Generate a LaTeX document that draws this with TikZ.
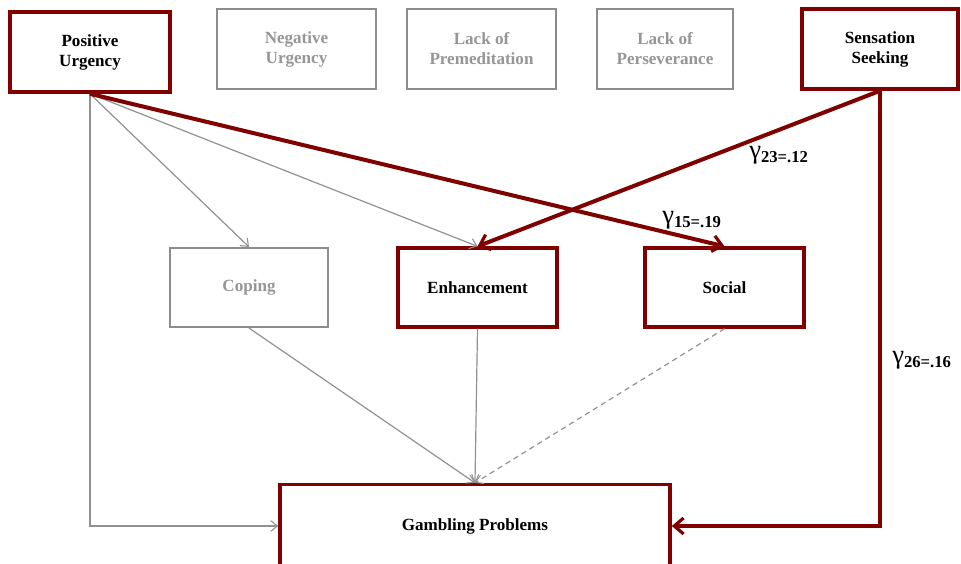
\documentclass[tikz,border=0pt]{standalone}
\usepackage{fontspec}
\setmainfont{Liberation Serif}
\usetikzlibrary{arrows.meta}
\definecolor{pathred}{RGB}{128,0,0}
\definecolor{boxgray}{RGB}{140,140,140}
\definecolor{txtgray}{RGB}{150,150,150}
\definecolor{linegray}{RGB}{145,145,145}
\newcommand{\gcoef}[1]{\raisebox{3pt}{\fontsize{20}{20}\selectfont\mdseries γ}{\fontsize{12.5}{12.5}\selectfont\bfseries #1}}
\begin{document}
\begin{tikzpicture}[x=0.75pt,y=-0.75pt,
  every node/.style={font=\fontsize{12.8}{15}\selectfont\bfseries, align=center, inner sep=0pt},
  keybox/.style={draw=pathred, line width=2.7pt, fill=white, text=black},
  dimbox/.style={draw=boxgray, line width=1.8pt, fill=white, text=txtgray},
  redpath/.style={draw=pathred, line width=3pt, -{Straight Barb[length=7pt,width=12pt,line width=2.4pt]}},
  graypath/.style={draw=linegray, line width=0.9pt, -{Straight Barb[length=5pt,width=8pt,line width=0.8pt]}},
  coef/.style={anchor=base west, text=black}]
\clip (0,0) rectangle (961,564);
\useasboundingbox (0,0) rectangle (961,564);

% impulsivity facets
\node[keybox, minimum width=120pt, minimum height=60pt] (pu)   at (90,52)    {Positive\\Urgency};
\node[dimbox, minimum width=119pt, minimum height=60pt] (nu)   at (296.5,49) {Negative\\Urgency};
\node[dimbox, minimum width=112pt, minimum height=60pt] (prem) at (481.5,49) {Lack of\\Premeditation};
\node[dimbox, minimum width=102pt, minimum height=60pt] (pers) at (665,49)   {Lack of\\Perseverance};
\node[keybox, minimum width=117pt, minimum height=60pt] (ss)   at (880,49)   {Sensation\\Seeking};

% gambling motives
\node[dimbox, minimum width=118.5pt, minimum height=59pt] (cop) at (249,287.5)   {Coping};
\node[keybox, minimum width=119pt, minimum height=59pt]   (enh) at (477.5,287.5) {Enhancement};
\node[keybox, minimum width=119pt, minimum height=59pt]   (soc) at (724.5,287.5) {Social};

% outcome, its lower edge running just past the frame
\node[keybox, minimum width=292.5pt, minimum height=62pt] (gp) at (475,526) {Gambling Problems};

% non-significant paths
\draw[graypath] (pu.south) -- (pu.south |- gp.west) -- (gp.west);
\draw[graypath] (pu.south) -- (cop.north);
\draw[graypath] (pu.south) -- (enh.north);
\draw[graypath] (cop.south) -- (gp.north);
\draw[graypath] (enh.south) -- (gp.north);
\draw[graypath, dashed, dash pattern=on 4pt off 3pt] (soc.south) -- (gp.north);

% significant paths
\draw[redpath] (pu.south) -- (soc.north);
\draw[redpath] (ss.south) -- (enh.north);
\draw[redpath] (ss.south) |- (gp.east);

% path coefficients
\node[coef] (g23) at (749,162) {\gcoef{23=.12}};
\node[coef] (g15) at (662,227) {\gcoef{15=.19}};
\node[coef] (g26) at (892,367) {\gcoef{26=.16}};
\end{tikzpicture}
\end{document}
